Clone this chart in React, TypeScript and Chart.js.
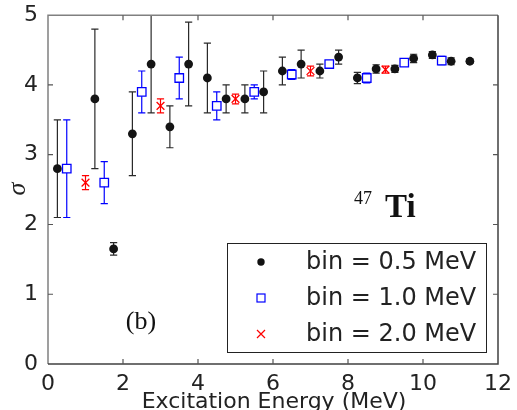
import React, { useEffect, useRef } from "react";
import { Chart, registerables } from "chart.js";

Chart.register(...registerables);

// Excitation energy (MeV) bin centres, spin-cutoff values and their uncertainties
const bin05X = [0.25, 1.25, 1.75, 2.25, 2.75, 3.25, 3.75, 4.25, 4.75, 5.25, 5.75, 6.25, 6.75, 7.25, 7.75, 8.25, 8.75, 9.25, 9.75, 10.25, 10.75, 11.25];
const bin05Y = [2.8, 3.8, 1.65, 3.3, 4.3, 3.4, 4.3, 4.1, 3.8, 3.8, 3.9, 4.2, 4.3, 4.2, 4.4, 4.1, 4.23, 4.23, 4.38, 4.43, 4.34, 4.34];
const bin05Err = [0.7, 1.0, 0.09, 0.6, 0.7, 0.3, 0.6, 0.5, 0.2, 0.2, 0.3, 0.2, 0.2, 0.1, 0.1, 0.08, 0.06, 0.05, 0.06, 0.05, 0.05, 0.03];

const bin10X = [0.5, 1.5, 2.5, 3.5, 4.5, 5.5, 6.5, 7.5, 8.5, 9.5, 10.5];
const bin10Y = [2.8, 2.6, 3.9, 4.1, 3.7, 3.9, 4.15, 4.3, 4.1, 4.32, 4.35];
const bin10Err = [0.7, 0.3, 0.3, 0.3, 0.2, 0.1, 0.07, 0.05, 0.07, 0.05, 0.06];

const bin20X = [1, 3, 5, 7, 9];
const bin20Y = [2.6, 3.7, 3.8, 4.2, 4.22];
const bin20Err = [0.1, 0.1, 0.07, 0.07, 0.05];

const seriesLabels = ["bin = 0.5 MeV", "bin = 1.0 MeV", "bin = 2.0 MeV"];
const xTicks = [0, 2, 4, 6, 8, 10, 12];
const yTicks = [0, 1, 2, 3, 4, 5];

const errors = [bin05Err, bin10Err, bin20Err];
const barColors = ["#2a2a2a", "#0000ff", "#ff0000"];

const toPoints = (xs: number[], ys: number[]) => xs.map((x, i) => ({ x, y: ys[i] }));

const decorPlugin = {
  id: "decor",
  beforeDatasetsDraw(chart: any) {
    const { ctx, chartArea, scales } = chart;
    const xs = scales.x;
    const ys = scales.y;
    ctx.save();
    ctx.beginPath();
    ctx.rect(chartArea.left, chartArea.top, chartArea.right - chartArea.left, chartArea.bottom - chartArea.top);
    ctx.clip();
    chart.data.datasets.forEach((ds: any, di: number) => {
      ctx.strokeStyle = barColors[di];
      ctx.lineWidth = 1.2;
      ds.data.forEach((p: any, i: number) => {
        const e = errors[di][i];
        const px = xs.getPixelForValue(p.x);
        const top = ys.getPixelForValue(p.y + e);
        const bot = ys.getPixelForValue(p.y - e);
        const cap = 3.6;
        ctx.beginPath();
        ctx.moveTo(px, top);
        ctx.lineTo(px, bot);
        ctx.moveTo(px - cap, top);
        ctx.lineTo(px + cap, top);
        ctx.moveTo(px - cap, bot);
        ctx.lineTo(px + cap, bot);
        ctx.stroke();
      });
    });
    ctx.restore();
  },
  afterDraw(chart: any) {
    const { ctx, chartArea, scales } = chart;
    const { left, right, top, bottom } = chartArea;
    const xs = scales.x;
    const ys = scales.y;
    ctx.save();

    // frame
    ctx.lineWidth = 1.5;
    ctx.strokeStyle = "#808080";
    ctx.beginPath();
    ctx.moveTo(left, bottom);
    ctx.lineTo(left, top);
    ctx.lineTo(right, top);
    ctx.stroke();
    ctx.strokeStyle = "#404040";
    ctx.beginPath();
    ctx.moveTo(right, top);
    ctx.lineTo(right, bottom);
    ctx.lineTo(left, bottom);
    ctx.stroke();

    // inward tick marks
    const tl = 5;
    ctx.lineWidth = 1.2;
    ctx.strokeStyle = "#555";
    ctx.beginPath();
    xTicks.slice(1, -1).forEach((v) => {
      const px = xs.getPixelForValue(v);
      ctx.moveTo(px, bottom);
      ctx.lineTo(px, bottom - tl);
      ctx.moveTo(px, top);
      ctx.lineTo(px, top + tl);
    });
    yTicks.slice(1, -1).forEach((v) => {
      const py = ys.getPixelForValue(v);
      ctx.moveTo(left, py);
      ctx.lineTo(left + tl, py);
      ctx.moveTo(right, py);
      ctx.lineTo(right - tl, py);
    });
    ctx.stroke();

    // axis titles
    ctx.fillStyle = "#222";
    ctx.font = '22px "DejaVu Sans"';
    ctx.textAlign = "center";
    ctx.textBaseline = "alphabetic";
    ctx.fillText("Excitation Energy (MeV)", (left + right) / 2 + 1, 408);

    ctx.save();
    ctx.translate(18, 189);
    ctx.rotate(-Math.PI / 2);
    ctx.font = 'italic 26px "Liberation Serif"';
    ctx.textBaseline = "middle";
    ctx.fillText("σ", 0, 0);
    ctx.restore();

    // annotations
    ctx.fillStyle = "#111";
    ctx.textAlign = "left";
    ctx.font = '18px "Liberation Serif"';
    ctx.fillText("47", 354, 204);
    ctx.font = 'bold 33px "Liberation Serif"';
    ctx.fillText("Ti", 385, 217);
    ctx.textAlign = "center";
    ctx.font = '26px "Liberation Serif"';
    ctx.fillText("(b)", 141, 329);

    // legend
    const lx = 227.5, ly = 243.5, lw = 259, lh = 109;
    ctx.fillStyle = "#fff";
    ctx.fillRect(lx, ly, lw, lh);
    ctx.strokeStyle = "#222";
    ctx.lineWidth = 1;
    ctx.strokeRect(lx, ly, lw, lh);
    const rows = [263, 299, 335];
    const mx = 261;
    // circle
    ctx.fillStyle = "#111";
    ctx.beginPath();
    ctx.arc(mx, rows[0] - 1, 3.7, 0, Math.PI * 2);
    ctx.fill();
    // square
    ctx.strokeStyle = "#0000ff";
    ctx.lineWidth = 1.2;
    ctx.strokeRect(mx - 4, rows[1] - 5, 8, 8);
    // cross
    ctx.strokeStyle = "#ff0000";
    ctx.beginPath();
    ctx.moveTo(mx - 4, rows[2] - 5);
    ctx.lineTo(mx + 4, rows[2] + 3);
    ctx.moveTo(mx + 4, rows[2] - 5);
    ctx.lineTo(mx - 4, rows[2] + 3);
    ctx.stroke();
    ctx.fillStyle = "#222";
    ctx.font = '24px "DejaVu Sans"';
    ctx.textAlign = "left";
    ctx.textBaseline = "middle";
    seriesLabels.forEach((t, i) => ctx.fillText(t, 306, rows[i]));

    ctx.restore();
  },
};

export default function App() {
  const ref = useRef<HTMLCanvasElement | null>(null);

  useEffect(() => {
    if (!ref.current) return;
    const chart = new Chart(ref.current, {
      type: "scatter",
      data: {
        datasets: [
          {
            label: seriesLabels[0],
            data: toPoints(bin05X, bin05Y),
            pointStyle: "circle",
            pointRadius: 4.4,
            borderWidth: 0,
            backgroundColor: "#141414",
            borderColor: "#141414",
          },
          {
            label: seriesLabels[1],
            data: toPoints(bin10X, bin10Y),
            pointStyle: "rect",
            pointRadius: 6,
            borderWidth: 1.3,
            backgroundColor: "#ffffff",
            borderColor: "#0000ff",
          },
          {
            label: seriesLabels[2],
            data: toPoints(bin20X, bin20Y),
            pointStyle: "crossRot",
            pointRadius: 5.5,
            borderWidth: 1.3,
            backgroundColor: "#ff0000",
            borderColor: "#ff0000",
          },
        ],
      },
      options: {
        animation: false,
        responsive: false,
        devicePixelRatio: 1,
        layout: { padding: { left: 0, top: 15, right: 19, bottom: 0 } },
        plugins: { legend: { display: false }, tooltip: { enabled: false } },
        scales: {
          x: {
            type: "linear",
            min: 0,
            max: 12,
            afterBuildTicks: (s: any) => {
              s.ticks = xTicks.map((v) => ({ value: v }));
            },
            afterFit: (s: any) => {
              s.height = 46;
            },
            grid: { display: false },
            border: { display: false },
            ticks: {
              padding: -1,
              color: "#222",
              font: { family: "DejaVu Sans", size: 22 },
              maxRotation: 0,
            },
          },
          y: {
            type: "linear",
            min: 0,
            max: 5,
            afterBuildTicks: (s: any) => {
              s.ticks = yTicks.map((v) => ({ value: v }));
            },
            afterFit: (s: any) => {
              s.width = 48;
            },
            grid: { display: false },
            border: { display: false },
            ticks: {
              padding: 2,
              color: "#222",
              font: { family: "DejaVu Sans", size: 22 },
            },
          },
        },
      },
      plugins: [decorPlugin],
    });
    return () => chart.destroy();
  }, []);

  return (
    <div style={{ position: "absolute", left: 0, top: 0, width: 517, height: 410, background: "#fff" }}>
      <canvas ref={ref} width={517} height={410} />
    </div>
  );
}
